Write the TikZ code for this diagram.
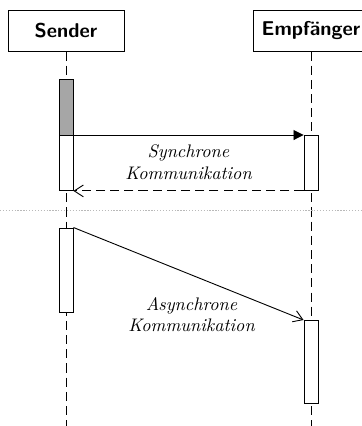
\documentclass[tikz,border=0pt]{standalone}
\usetikzlibrary{arrows.meta}
\definecolor{actgray}{RGB}{166,166,166}
\definecolor{sepgray}{RGB}{185,185,185}
\begin{document}
\begin{tikzpicture}[x=0.55pt,y=-0.55pt,
  actor/.style={draw,line width=0.5pt,fill=white,minimum width=63.8pt,minimum height=22.55pt,
    inner sep=0pt,font=\fontsize{11}{13}\selectfont\sffamily\bfseries},
  lifeline/.style={line width=0.5pt,dash pattern=on 5pt off 2.8pt},
  actbox/.style={draw,line width=0.5pt,fill=white,minimum width=7.7pt,inner sep=0pt,anchor=north},
  msg/.style={line width=0.5pt},
  note/.style={align=center,font=\itshape,inner sep=0pt}]
  \useasboundingbox (0,0) rectangle (362,426);

  % participants
  \node[actor] (snd) at (66,30.5) {Sender};
  \node[actor] (rcv) at (311,30.5) {Empfänger};

  % lifelines
  \coordinate (sndEnd) at (66,426);
  \coordinate (rcvEnd) at (311,426);
  \draw[lifeline] (snd.south) -- (sndEnd);
  \draw[lifeline] (rcv.south) -- (rcvEnd);

  % separator between the two cases
  \coordinate (sepL) at (0,210.7);
  \coordinate (sepR) at (362,210.7);
  \draw[sepgray,line width=0.5pt,dash pattern=on 0.7pt off 0.9pt] (sepL) -- (sepR);

  % synchronous call
  \node[actbox,fill=actgray,minimum height=30.8pt] (sBusy) at (66,79) {};
  \node[actbox,minimum height=30.25pt] (sWait) at (66,135) {};
  \node[actbox,minimum height=30.25pt] (rSync) at (311,135) {};
  \draw[msg,-{Triangle[length=5.5pt,width=5.5pt]}] (sWait.north east) -- (rSync.north west);
  \draw[msg,dash pattern=on 5pt off 2.8pt,-{Straight Barb[length=5pt,width=6.5pt]}]
    (rSync.south west) -- (sWait.south east);
  \node[note] (syncTxt) at (188.5,162.5) {Synchrone\\Kommunikation};

  % asynchronous call
  \node[actbox,minimum height=46.2pt] (sAsync) at (66,227.5) {};
  \node[actbox,minimum height=45.6pt] (rAsync) at (311,320) {};
  \draw[msg,-{Straight Barb[length=5pt,width=6.5pt]}] (sAsync.north east) -- (rAsync.north west);
  \node[note] (asyncTxt) at (191.5,314.5) {Asynchrone\\Kommunikation};
\end{tikzpicture}
\end{document}
